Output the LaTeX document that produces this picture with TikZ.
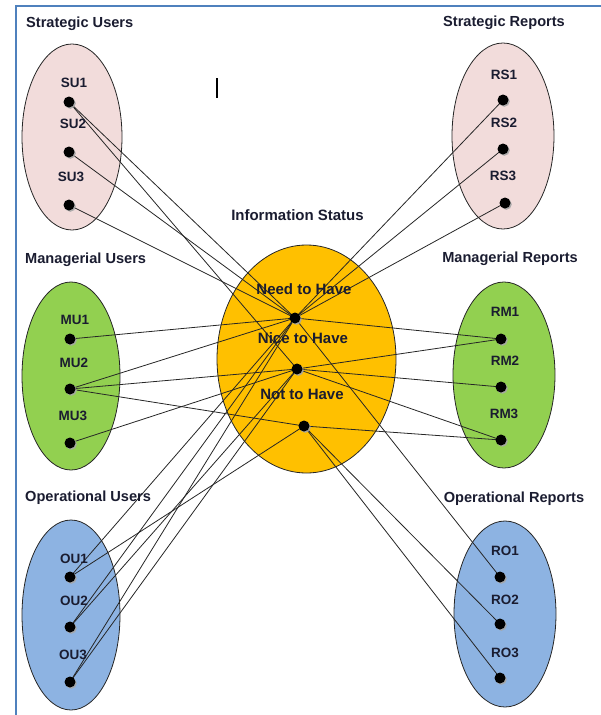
\documentclass[tikz,border=0pt]{standalone}
\usepackage{fontspec}
\setmainfont{Liberation Sans}
\usetikzlibrary{shapes.geometric,shadows}
\pgfdeclarelayer{bg}
\pgfdeclarelayer{edges}
\pgfsetlayers{bg,edges,main}
\definecolor{framebl}{RGB}{79,129,189}
\definecolor{pinkfill}{RGB}{242,220,219}
\definecolor{greenfill}{RGB}{146,208,80}
\definecolor{bluefill}{RGB}{141,179,226}
\definecolor{goldfill}{RGB}{255,192,0}
\definecolor{ink}{RGB}{26,28,48}
\begin{document}
\begin{tikzpicture}[x=1pt,y=-1pt,
  group/.style={ellipse, draw=black!85, line width=0.8pt, inner sep=0pt},
  dotn/.style={circle, fill=black, inner sep=0pt, minimum size=11pt,
    drop shadow={shadow xshift=1.3pt, shadow yshift=-1.3pt, fill=black!35, opacity=0.9}},
  title/.style={anchor=base west, inner sep=0pt, text=ink,
    font=\bfseries\fontsize{14.6}{16}\selectfont},
  rtitle/.style={anchor=base, inner sep=0pt, text=ink,
    font=\bfseries\fontsize{14.6}{16}\selectfont},
  lbl/.style={anchor=base, inner sep=0pt, text=ink,
    font=\bfseries\fontsize{13.5}{15}\selectfont},
  status/.style={anchor=base, inner sep=0pt, text=ink,
    font=\bfseries\fontsize{15}{17}\selectfont},
  link/.style={draw=black!85, line width=0.8pt}
]
\useasboundingbox (0,0) rectangle (601,715);

% frame edges
\draw[framebl, line width=2pt] (15.5,715) -- (15.5,5.5) -- (601,5.5);

% group ellipses
\begin{pgfonlayer}{bg}
  \node[group, fill=pinkfill,  minimum width=100, minimum height=186] (SUg) at (72,137) {};
  \node[group, fill=pinkfill,  minimum width=102, minimum height=186] (RSg) at (503,136) {};
  \node[group, fill=greenfill, minimum width=98,  minimum height=188] (MUg) at (71,376) {};
  \node[group, fill=greenfill, minimum width=102, minimum height=186] (RMg) at (504,375) {};
  \node[group, fill=bluefill,  minimum width=98,  minimum height=190] (OUg) at (71,615) {};
  \node[group, fill=bluefill,  minimum width=102, minimum height=186] (ROg) at (505,614) {};
  \node[group, fill=goldfill,  minimum width=179, minimum height=228] (ISg) at (306.5,359) {};
\end{pgfonlayer}

% group titles
\node[title] (tSU) at (26,27) {Strategic Users};
\node[rtitle] (tRS) at (504,26.5) {Strategic Reports};
\node[title] (tMU) at (25,263) {Managerial Users};
\node[rtitle] (tRM) at (510,262) {Managerial Reports};
\node[title] (tOU) at (25,501) {Operational Users};
\node[rtitle] (tRO) at (514,502) {Operational Reports};
\node[rtitle, font=\bfseries\fontsize{15}{17}\selectfont] (tIS) at (297.5,220) {Information Status};

% item labels
\node[lbl] (lSU1) at (74,87) {SU1};
\node[lbl] (lSU2) at (73,128) {SU2};
\node[lbl] (lSU3) at (71,181) {SU3};
\node[lbl] (lRS1) at (504,79) {RS1};
\node[lbl] (lRS2) at (504,127) {RS2};
\node[lbl] (lRS3) at (503,180) {RS3};
\node[lbl] (lMU1) at (75,324) {MU1};
\node[lbl] (lMU2) at (74,367) {MU2};
\node[lbl] (lMU3) at (73,420) {MU3};
\node[lbl] (lRM1) at (505,316) {RM1};
\node[lbl] (lRM2) at (505,365) {RM2};
\node[lbl] (lRM3) at (504,418) {RM3};
\node[lbl] (lOU1) at (74,563) {OU1};
\node[lbl] (lOU2) at (74,605) {OU2};
\node[lbl] (lOU3) at (73,659) {OU3};
\node[lbl] (lRO1) at (505,555) {RO1};
\node[lbl] (lRO2) at (505,604) {RO2};
\node[lbl] (lRO3) at (505,657) {RO3};
\node[status] (lNEED) at (304,294) {Need to Have};
\node[status] (lNICE) at (303,343) {Nice to Have};
\node[status] (lNOT)  at (302,399) {Not to Have};

% dots
\node[dotn] (SU1) at (69,102) {};
\node[dotn] (SU2) at (69,152) {};
\node[dotn] (SU3) at (69,205) {};
\node[dotn] (RS1) at (503,100) {};
\node[dotn] (RS2) at (503,149) {};
\node[dotn] (RS3) at (505,203) {};
\node[dotn] (MU1) at (70,339) {};
\node[dotn] (MU2) at (70,389) {};
\node[dotn] (MU3) at (70,443) {};
\node[dotn] (RM1) at (501,339) {};
\node[dotn] (RM2) at (501,387) {};
\node[dotn] (RM3) at (501,440) {};
\node[dotn] (OU1) at (70,577) {};
\node[dotn] (OU2) at (70,627) {};
\node[dotn] (OU3) at (70,682) {};
\node[dotn] (RO1) at (500,577) {};
\node[dotn] (RO2) at (500,624) {};
\node[dotn] (RO3) at (500,678) {};
\node[dotn] (NEED) at (295,318) {};
\node[dotn] (NICE) at (297,369) {};
\node[dotn] (NOT)  at (304,426) {};

% text cursor mark
\fill[black] (215.8,78) rectangle (217.8,98);

% connectors
\begin{pgfonlayer}{edges}
  \foreach \a/\b in {SU1/NEED, SU1/NICE, SU2/NEED, SU3/NEED,
                     RS1/NEED, RS2/NEED, RS3/NEED,
                     MU1/NEED, MU2/NEED, MU2/NICE, MU2/NOT, MU3/NICE,
                     OU1/NEED, OU1/NOT, OU2/NEED, OU2/NICE, OU3/NEED, OU3/NICE,
                     NEED/RM1, NICE/RM1, NICE/RM2, NICE/RM3, NOT/RM3,
                     NEED/RO1, NOT/RO2, NOT/RO3}
    \draw[link] (\a.center) -- (\b.center);
\end{pgfonlayer}
\end{tikzpicture}
\end{document}
